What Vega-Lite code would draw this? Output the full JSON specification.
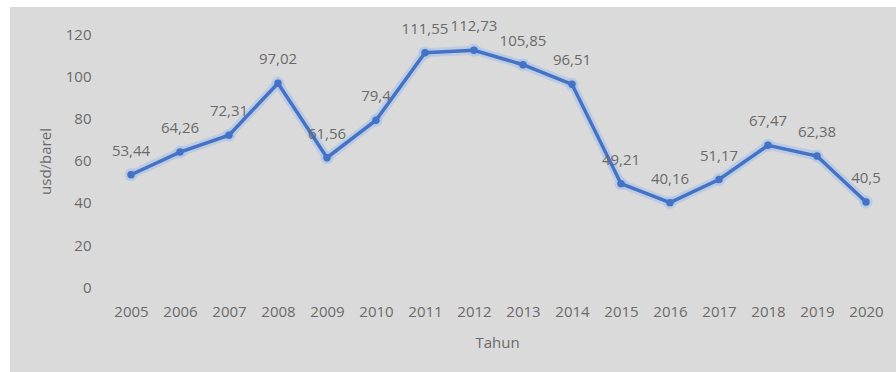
{
  "$schema": "https://vega.github.io/schema/vega-lite/v6.json",
  "width": 886,
  "height": 365,
  "autosize": {"type": "none"},
  "padding": {"left": 10, "top": 7, "right": 0, "bottom": 0},
  "background": "white",
  "config": {"view": {"fill": "#dadada", "stroke": null}, "font": "Open Sans"},
  "data": {
    "values": [
      {"year": 2005, "price": 53.44, "label": "53,44"},
      {"year": 2006, "price": 64.26, "label": "64,26"},
      {"year": 2007, "price": 72.31, "label": "72,31"},
      {"year": 2008, "price": 97.02, "label": "97,02"},
      {"year": 2009, "price": 61.56, "label": "61,56"},
      {"year": 2010, "price": 79.4, "label": "79,4"},
      {"year": 2011, "price": 111.55, "label": "111,55"},
      {"year": 2012, "price": 112.73, "label": "112,73"},
      {"year": 2013, "price": 105.85, "label": "105,85"},
      {"year": 2014, "price": 96.51, "label": "96,51"},
      {"year": 2015, "price": 49.21, "label": "49,21"},
      {"year": 2016, "price": 40.16, "label": "40,16"},
      {"year": 2017, "price": 51.17, "label": "51,17"},
      {"year": 2018, "price": 67.47, "label": "67,47"},
      {"year": 2019, "price": 62.38, "label": "62,38"},
      {"year": 2020, "price": 40.5, "label": "40,5"}
    ]
  },
  "encoding": {
    "x": {
      "field": "year",
      "type": "quantitative",
      "scale": {"domain": [2002.531, 2020.612], "nice": false, "zero": false},
      "axis": {
        "values": [2005, 2006, 2007, 2008, 2009, 2010, 2011, 2012, 2013, 2014, 2015, 2016, 2017, 2018, 2019, 2020],
        "format": "d",
        "title": "Tahun",
        "orient": "bottom",
        "offset": -61,
        "domain": false,
        "ticks": false,
        "grid": false,
        "labelPadding": 0,
        "labelBaseline": "middle",
        "labelFontSize": 15,
        "labelColor": "#6a6a6a",
        "labelFlush": false,
        "labelOverlap": false,
        "titleFontSize": 15,
        "titleFontWeight": "normal",
        "titleColor": "#6a6a6a",
        "titleX": 487,
        "titleY": 31,
        "titleBaseline": "middle",
        "titleAlign": "center"
      }
    },
    "y": {
      "field": "price",
      "type": "quantitative",
      "scale": {"domain": [-40.476, 133.333], "nice": false, "zero": false},
      "axis": {
        "values": [0, 20, 40, 60, 80, 100, 120],
        "title": "usd/barel",
        "offset": -81,
        "domain": false,
        "ticks": false,
        "grid": false,
        "labelPadding": 0,
        "labelFontSize": 15,
        "labelColor": "#6a6a6a",
        "labelFlush": false,
        "labelOverlap": false,
        "titleFontSize": 15,
        "titleFontWeight": "normal",
        "titleColor": "#6a6a6a",
        "titleX": -46,
        "titleY": 154,
        "titleAngle": -90,
        "titleBaseline": "middle",
        "titleAlign": "center"
      }
    }
  },
  "layer": [
    {"mark": {"type": "line", "color": "#a9c2ea", "strokeWidth": 9, "opacity": 0.6}},
    {"mark": {"type": "point", "filled": true, "color": "#a9c2ea", "size": 170, "opacity": 0.6}},
    {"mark": {"type": "line", "color": "#4472c4", "strokeWidth": 3.5}},
    {"mark": {"type": "point", "filled": true, "color": "#4472c4", "size": 55, "opacity": 1}},
    {
      "mark": {"type": "text", "dy": -24, "fontSize": 15, "color": "#6a6a6a"},
      "encoding": {"text": {"field": "label"}}
    }
  ]
}
